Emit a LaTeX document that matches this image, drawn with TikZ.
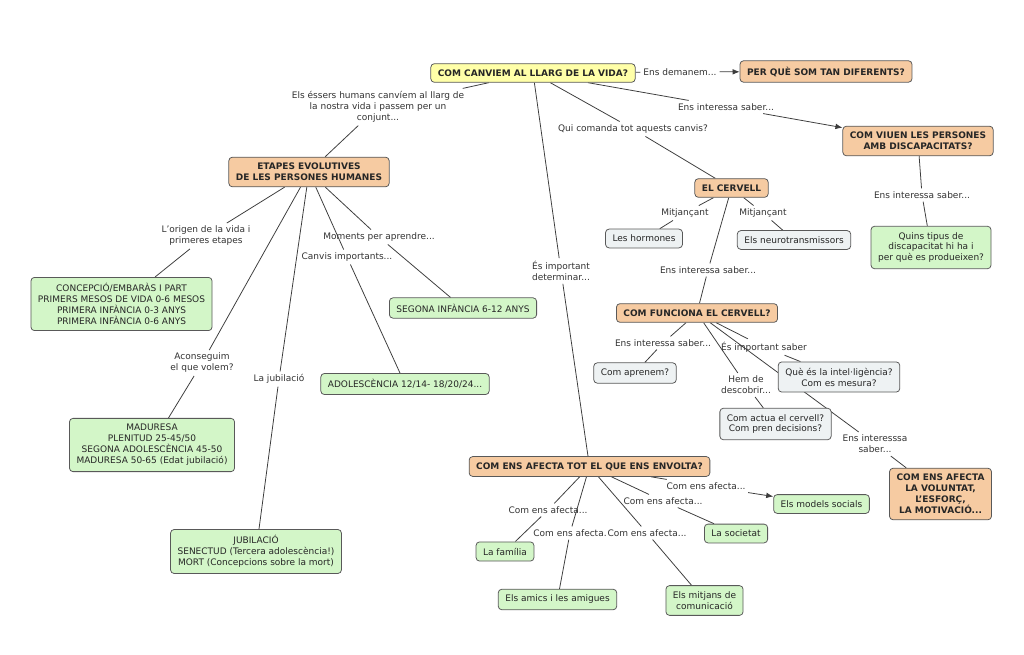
\documentclass[tikz,border=0pt]{standalone}
\usepackage{fontspec}
\setmainfont{DejaVu Sans}
\usetikzlibrary{backgrounds,arrows.meta}

\definecolor{cmyellow}{HTML}{FFFFA8}
\definecolor{cmorange}{HTML}{F6CBA2}
\definecolor{cmgreen}{HTML}{D3F6C8}
\definecolor{cmgray}{HTML}{EEF2F3}
\definecolor{cmline}{HTML}{3C3C3C}
\definecolor{cmtext}{HTML}{333333}

\begin{document}
\begin{tikzpicture}[x=0.025cm,y=-0.025cm,
	box/.style={draw=cmline!85,rounded corners=2.5pt,line width=0.55pt,align=center,
		inner xsep=5pt,inner ysep=4.2pt,text=black!85,font=\fontsize{6.4}{7.8}\selectfont},
	topic/.style={box,fill=cmorange,font=\fontsize{6.4}{7.8}\selectfont\bfseries},
	leaf/.style={box,fill=cmgreen},
	note/.style={box,fill=cmgray},
	link/.style={inner sep=2pt,align=center,text=cmtext,font=\fontsize{6.4}{7.8}\selectfont},
	conn/.style={draw=cmline,line width=0.55pt},
	goes/.style={conn,-{Latex[length=5pt,width=4pt]}}
]
\useasboundingbox (0,0) rectangle (1024,655);

% concepts
\node[topic,fill=cmyellow] (main) at (533,73) {COM CANVIEM AL LLARG DE LA VIDA?};
\node[topic] (per) at (826,71.5) {PER QUÈ SOM TAN DIFERENTS?};
\node[topic] (discap) at (918,141) {COM VIUEN LES PERSONES\\AMB DISCAPACITATS?};
\node[leaf] (quins) at (931,247.5) {Quins tipus de\\discapacitat hi ha i\\per què es produeixen?};
\node[topic] (etapes) at (309,172) {ETAPES EVOLUTIVES\\DE LES PERSONES HUMANES};
\node[leaf] (concep) at (121.5,304) {CONCEPCIÓ/EMBARÀS I PART\\PRIMERS MESOS DE VIDA 0-6 MESOS\\PRIMERA INFÀNCIA 0-3 ANYS\\PRIMERA INFÀNCIA 0-6 ANYS};
\node[leaf] (segona) at (463,308) {SEGONA INFÀNCIA 6-12 ANYS};
\node[leaf] (adol) at (405,384) {ADOLESCÈNCIA 12/14- 18/20/24...};
\node[leaf] (madur) at (152,445) {MADURESA\\PLENITUD 25-45/50\\SEGONA ADOLESCÈNCIA 45-50\\MADURESA 50-65 (Edat jubilació)};
\node[leaf] (jubil) at (256,551.5) {JUBILACIÓ\\SENECTUD (Tercera adolescència!)\\MORT (Concepcions sobre la mort)};
\node[topic] (cervell) at (731.5,188) {EL CERVELL};
\node[note] (horm) at (644,238.5) {Les hormones};
\node[note] (neuro) at (794,240) {Els neurotransmissors};
\node[topic] (funciona) at (697,313) {COM FUNCIONA EL CERVELL?};
\node[note] (aprenem) at (635,373) {Com aprenem?};
\node[note] (intel) at (839,377) {Què és la intel·ligència?\\Com es mesura?};
\node[note] (actua) at (775.5,424) {Com actua el cervell?\\Com pren decisions?};
\node[topic] (voluntat) at (940.5,494) {COM ENS AFECTA\\LA VOLUNTAT,\\L'ESFORÇ,\\LA MOTIVACIÓ...};
\node[topic] (envolta) at (589.5,466.5) {COM ENS AFECTA TOT EL QUE ENS ENVOLTA?};
\node[leaf] (models) at (821.5,504) {Els models socials};
\node[leaf] (societat) at (736,533.5) {La societat};
\node[leaf] (familia) at (505,551.5) {La família};
\node[leaf] (amics) at (557.5,599.5) {Els amics i les amigues};
\node[leaf] (mitjans) at (704.5,600.5) {Els mitjans de\\comunicació};

% linking phrases
\node[link] (ldem) at (680,72) {Ens demanem...};
\node[link] (lesser) at (378,107) {Els éssers humans canvíem al llarg de\\la nostra vida i passem per un\\conjunt...};
\node[link] (lqui) at (633,129) {Qui comanda tot aquests canvis?};
\node[link] (linter1) at (726,107) {Ens interessa saber...};
\node[link] (limp) at (561,271) {És important\\determinar...};
\node[link] (ldisc) at (922,195) {Ens interessa saber...};
\node[link] (lorig) at (206,236) {L'origen de la vida i\\primeres etapes};
\node[link] (lmom) at (379,237) {Moments per aprendre...};
\node[link] (lcanv) at (347,257) {Canvis importants...};
\node[link] (lacon) at (202,363) {Aconseguim\\el que volem?};
\node[link] (ljub) at (279,379) {La jubilació};
\node[link] (lmit1) at (685,213) {Mitjançant};
\node[link] (lmit2) at (763,213) {Mitjançant};
\node[link] (lint2) at (708,270) {Ens interessa saber...};
\node[link] (lint3) at (663,343) {Ens interessa saber...};
\node[link] (limps) at (764,347) {És important saber};
\node[link] (lhem) at (746,385) {Hem de\\descobrir...};
\node[link] (lint4) at (875,444) {Ens interesssa\\saber...};
\node[link] (laf1) at (706,486) {Com ens afecta...};
\node[link] (laf2) at (663,501) {Com ens afecta...};
\node[link] (laf3) at (548,510) {Com ens afecta...};
\node[link] (laf4) at (570,533) {Com ens afecta.};
\node[link] (laf5) at (647,533) {Com ens afecta...};

\begin{scope}[on background layer]
\fill[white] (0,0) rectangle (1024,655);

\foreach \a/\b in {main/ldem,main/lesser,lesser/etapes,main/lqui,lqui/cervell,main/linter1,
	main/limp,limp/envolta,discap/ldisc,ldisc/quins,
	etapes/lorig,lorig/concep,etapes/lmom,lmom/segona,etapes/lcanv,lcanv/adol,
	etapes/lacon,lacon/madur,etapes/ljub,ljub/jubil,
	cervell/lmit1,lmit1/horm,cervell/lmit2,lmit2/neuro,cervell/lint2,lint2/funciona,
	funciona/lint3,lint3/aprenem,funciona/limps,limps/intel,funciona/lhem,lhem/actua,
	funciona/lint4,lint4/voluntat,
	envolta/laf1,envolta/laf2,laf2/societat,envolta/laf3,laf3/familia,
	envolta/laf4,laf4/amics,envolta/laf5,laf5/mitjans}{
	\draw[conn] (\a) -- (\b);
}

\foreach \a/\b in {ldem/per,linter1/discap,laf1/models}{
	\draw[goes] (\a) -- (\b);
}
\end{scope}

\end{tikzpicture}
\end{document}
